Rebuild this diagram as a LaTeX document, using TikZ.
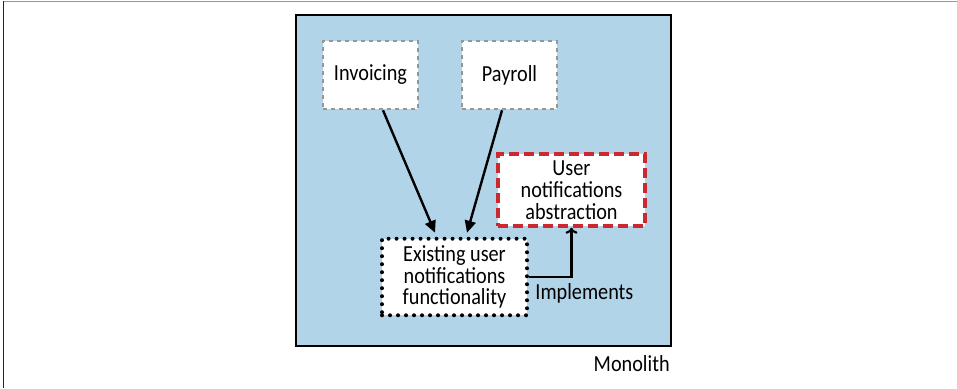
\documentclass[tikz,border=0pt]{standalone}
\usepackage{fontspec}
\setmainfont{Carlito}[FakeStretch=0.88]
\usetikzlibrary{positioning, arrows.meta}
\definecolor{monoBlue}{RGB}{178, 212, 232}
\definecolor{absRed}{RGB}{204, 40, 48}
\definecolor{svcGray}{RGB}{150, 150, 150}

\tikzset{
  txt/.style={font=\fontsize{11.5}{10.9}\selectfont, align=center},
  svcbox/.style={txt, draw=svcGray, fill=white, line width=1.3pt,
    dash pattern=on 2pt off 2pt, minimum width=47.5pt, minimum height=34pt},
  absbox/.style={txt, draw=absRed, fill=white, line width=1.8pt,
    dash pattern=on 5pt off 2.5pt, minimum width=73.5pt, minimum height=35pt},
  oldbox/.style={txt, draw=black, fill=white, line width=2pt, line cap=round,
    dash pattern=on 0pt off 4pt, minimum width=72.5pt, minimum height=35pt},
  calls/.style={line width=1.2pt, -{Triangle[length=6pt,width=5.5pt]}},
  impl/.style={line width=1.1pt, -{To[length=3pt,width=6pt]}}
}

\begin{document}
\begin{tikzpicture}[x=0.5pt, y=0.5pt]
        % Page size (957 x 388 px)
        \useasboundingbox (0,0) rectangle (957,388);
        \draw[svcGray, line width=0.8pt] (3,386.5) -- (957,386.5);
        \draw[black!85, line width=0.9pt] (3.5,387) -- (3.5,0);

        % Monolith
        \node[draw, line width=1.1pt, fill=monoBlue, minimum width=187.5pt, minimum height=165.5pt]
          (monolith) at (483.5,207.5) {};
        \node[txt, anchor=north east, inner sep=1pt] (monoLbl) at ([yshift=-3pt]monolith.south east) {Monolith};

        % Calling services
        \node[svcbox] (invoicing) at (370.5,313) {Invoicing};
        \node[svcbox] (payroll) at (509.5,313) {Payroll};

        % Notifications
        \node[oldbox] (existing) at (454.5,111) {Existing user\\notifications\\functionality};
        \node[absbox] (abstraction) at (571.5,198) {User\\notifications\\abstraction};

        % Connectors
        \draw[calls] ([xshift=6.25pt]invoicing.south) -- ([xshift=-9.75pt, yshift=2pt]existing.north);
        \draw[calls] ([xshift=-3.75pt]payroll.south) -- ([xshift=6.25pt, yshift=2pt]existing.north);
        \draw[impl] (existing.east) -| (abstraction.south);
        \node[txt, anchor=north west, inner sep=1pt] (implLbl) at ([xshift=2pt, yshift=-2pt]existing.east) {Implements};
\end{tikzpicture}
\end{document}
